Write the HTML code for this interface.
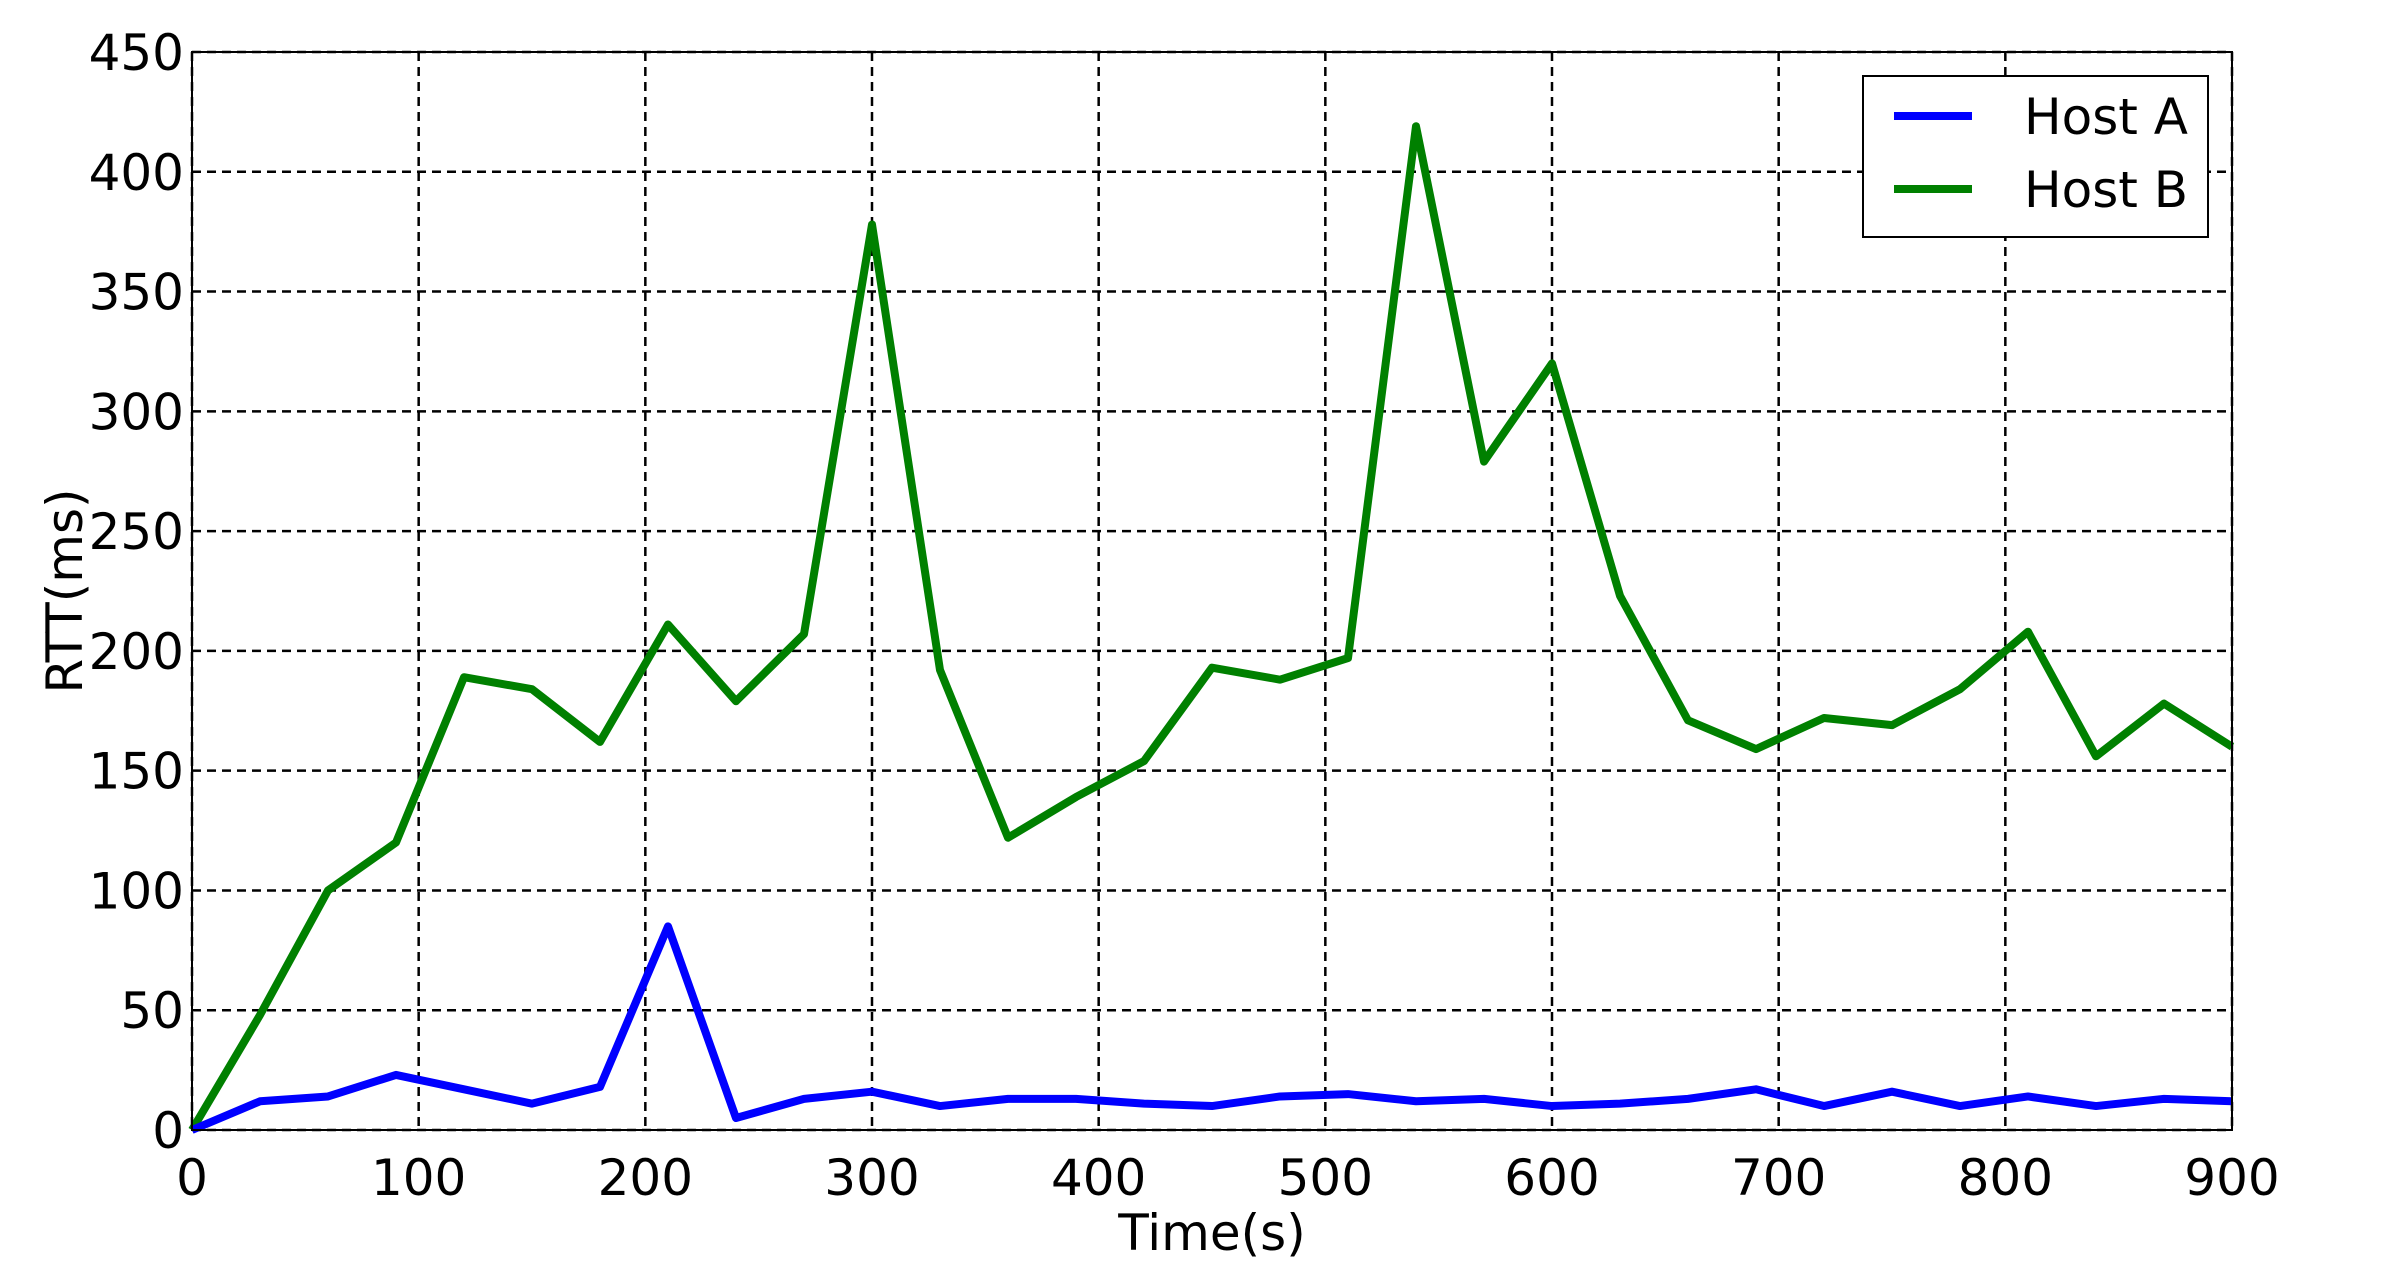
<!DOCTYPE html>
<html><head><meta charset="utf-8"><style>
html,body{margin:0;padding:0;background:#fff;}
svg{display:block;}
text{font-family:"DejaVu Sans","Liberation Sans",sans-serif;fill:#000;}
</style></head><body>
<svg id="chart" width="2400" height="1270" viewBox="0 0 2400 1270">
<rect width="2400" height="1270" fill="#fff"/>
<g id="grid"></g>
<g id="series"></g>
<rect x="192" y="52" width="2040" height="1078" fill="none" stroke="#000" stroke-width="2"/>
<g id="ticks"></g>
<text x="1212" y="1250" font-size="50" text-anchor="middle">Time(s)</text>
<text x="0" y="0" font-size="50" text-anchor="middle" transform="translate(82,591) rotate(-90)">RTT(ms)</text>
<g>
<rect x="1863" y="76" width="345" height="161" fill="#fff" stroke="#000" stroke-width="2"/>
<line x1="1894" y1="116" x2="1972" y2="116" stroke="#0000ff" stroke-width="8"/>
<text x="2024" y="134" font-size="50">Host A</text>
<line x1="1894" y1="189" x2="1972" y2="189" stroke="#008000" stroke-width="8"/>
<text x="2024" y="207" font-size="50">Host B</text>
</g>
</svg>
<script>
const times = [0,30,60,90,120,150,180,210,240,270,300,330,360,390,420,450,480,510,540,570,600,630,660,690,720,750,780,810,840,870,900];
const hostA = [0,12,14,23,17,11,18,85,5,13,16,10,13,13,11,10,14,15,12,13,10,11,13,17,10,16,10,14,10,13,12];
const hostB = [0,48,100,120,189,184,162,211,179,207,378,192,122,139,154,193,188,197,419,279,320,223,171,159,172,169,184,208,156,178,160];
const xTicks = [0,100,200,300,400,500,600,700,800,900];
const yTicks = [0,50,100,150,200,250,300,350,400,450];

const L=192,R=2232,T=52,B=1130;
const xS = v => L + (v-0)/(900-0)*(R-L);
const yS = v => B - (v-0)/(450-0)*(B-T);
const NS='http://www.w3.org/2000/svg';
const grid=document.getElementById('grid'), ticks=document.getElementById('ticks'), series=document.getElementById('series');

xTicks.forEach(v=>{
  const x=xS(v);
  const l=document.createElementNS(NS,'line');
  l.setAttribute('x1',x);l.setAttribute('x2',x);l.setAttribute('y1',T);l.setAttribute('y2',B);
  l.setAttribute('stroke','#000');l.setAttribute('stroke-width','2.5');l.setAttribute('stroke-dasharray','9,6');
  
  
  grid.appendChild(l);
  const t=document.createElementNS(NS,'text');
  t.setAttribute('x',x);t.setAttribute('y',1195);t.setAttribute('font-size','50');t.setAttribute('text-anchor','middle');
  t.textContent=v;
  
  
  ticks.appendChild(t);
});
yTicks.forEach(v=>{
  const y=yS(v);
  const l=document.createElementNS(NS,'line');
  l.setAttribute('x1',L);l.setAttribute('x2',R);l.setAttribute('y1',y);l.setAttribute('y2',y);
  l.setAttribute('stroke','#000');l.setAttribute('stroke-width','2.5');l.setAttribute('stroke-dasharray','9,6');
  
  
  grid.appendChild(l);
  const t=document.createElementNS(NS,'text');
  t.setAttribute('x',184);t.setAttribute('y',y+18);t.setAttribute('font-size','50');t.setAttribute('text-anchor','end');
  t.textContent=v;
  
  
  ticks.appendChild(t);
});
function drawLine(vals,color,name){
  const p=document.createElementNS(NS,'polyline');
  p.setAttribute('points',vals.map((v,i)=>xS(times[i])+','+yS(v)).join(' '));
  p.setAttribute('fill','none');p.setAttribute('stroke',color);p.setAttribute('stroke-width','8');
  p.setAttribute('stroke-linejoin','round');
  
  
  series.appendChild(p);
}
drawLine(hostB,'#008000','host-b-line');
drawLine(hostA,'#0000ff','host-a-line');
</script>
</body></html>
